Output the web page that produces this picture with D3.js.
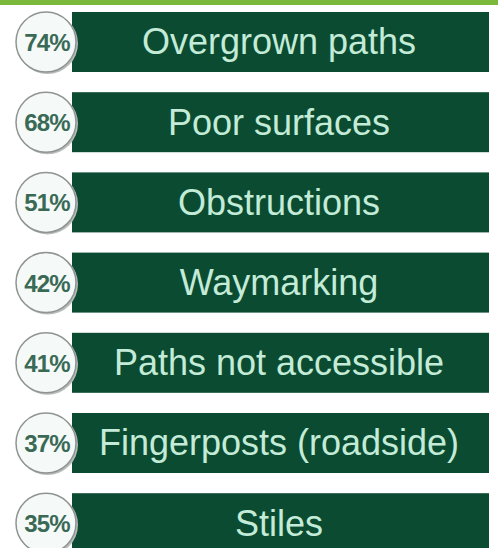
<!DOCTYPE html>
<html>
<head>
<meta charset="utf-8">
<script src="https://cdn.jsdelivr.net/npm/d3@7"></script>
<style>
  html, body { margin: 0; padding: 0; background: #ffffff; }
  svg { display: block; }
</style>
</head>
<body>
<div id="chart"></div>
<script>
// Issues reported on public paths, share of respondents
const issues = [
  "Overgrown paths",
  "Poor surfaces",
  "Obstructions",
  "Waymarking",
  "Paths not accessible",
  "Fingerposts (roadside)",
  "Stiles"
];
const shares = [74, 68, 51, 42, 41, 37, 35];

const width = 498, height = 548;
const rows = issues.map((name, i) => ({ name, share: shares[i] }));

const svg = d3.select("#chart").append("svg")
  .attr("width", width)
  .attr("height", height);

// Green rule across the top
svg.append("rect")
  .attr("x", 0).attr("y", 0)
  .attr("width", width).attr("height", 5)
  .attr("fill", "#7ab93c");

// One row per issue, evenly stacked
const y = d3.scaleBand()
  .domain(issues)
  .range([12, 12 + issues.length * 80.2 - 20.2])
  .paddingInner(0.252)
  .paddingOuter(0);

const barX0 = 72, barX1 = 489;
const fmt = d => d + "%";

const row = svg.selectAll("g.row")
  .data(rows)
  .join("g")
  .attr("class", "row")
  .attr("transform", d => `translate(0,${y(d.name)})`);

row.append("rect")
  .attr("x", barX0)
  .attr("y", 0)
  .attr("width", barX1 - barX0)
  .attr("height", y.bandwidth())
  .attr("fill", "#0a4b31");

row.append("text")
  .attr("x", 279)
  .attr("y", y.bandwidth() / 2 + 12.5)
  .attr("text-anchor", "middle")
  .attr("font-family", "Liberation Sans, Arial, sans-serif")
  .attr("font-size", 36)
  .attr("fill", "#c3ebd7")
  .text(d => d.name);

const cx = 46, r = 30;

// soft shadow under each badge
row.append("circle")
  .attr("cx", cx + 1.5)
  .attr("cy", y.bandwidth() / 2 + 1.5)
  .attr("r", r + 0.5)
  .attr("fill", "#b8bcba");

row.append("circle")
  .attr("cx", cx)
  .attr("cy", y.bandwidth() / 2)
  .attr("r", r)
  .attr("fill", "#f5faf8")
  .attr("stroke", "#8f9491")
  .attr("stroke-width", 1.5);

row.append("text")
  .attr("x", cx + 1)
  .attr("y", y.bandwidth() / 2 + 9)
  .attr("text-anchor", "middle")
  .attr("font-family", "Liberation Sans, Arial, sans-serif")
  .attr("font-size", 24)
  .attr("font-weight", "bold")
  .attr("fill", "#3a6a56")
  .attr("letter-spacing", -0.8)
  .text(d => fmt(d.share));
</script>
</body>
</html>
